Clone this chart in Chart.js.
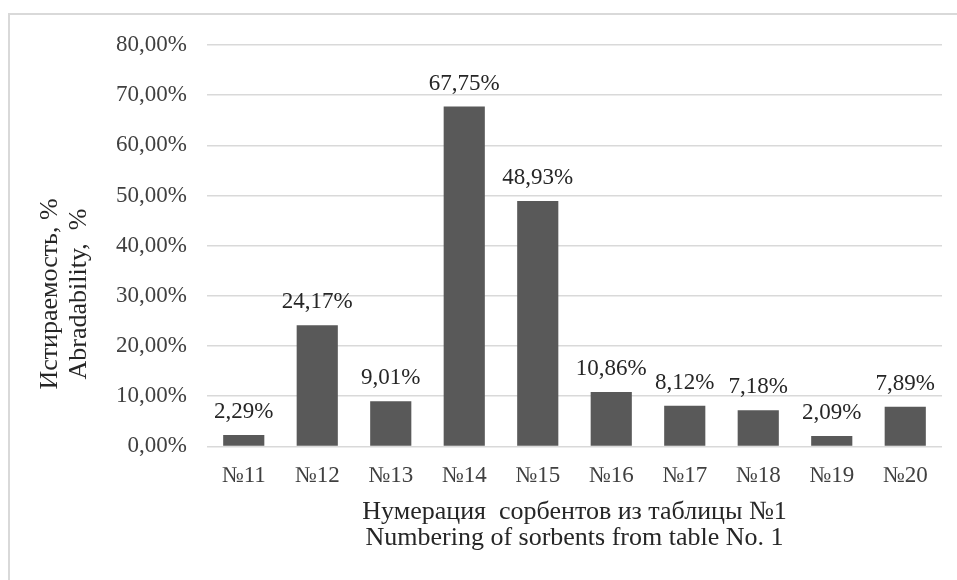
<!DOCTYPE html>
<html>
<head>
<meta charset="utf-8">
<script src="https://cdn.jsdelivr.net/npm/chart.js@4.4.0/dist/chart.umd.min.js"></script>
<style>
  html, body { margin: 0; padding: 0; background: #fff; }
  #wrap { position: relative; width: 957px; height: 580px; overflow: hidden; }
  #frame { position: absolute; left: 8px; top: 13px; width: 1000px; height: 700px;
           border: 2px solid #d9d9d9; box-sizing: border-box; }
  canvas { position: absolute; left: 0; top: 0; }
</style>
</head>
<body>
<div id="wrap">
  <div id="frame"></div>
  <canvas id="c" width="957" height="580"></canvas>
</div>
<script>
  // данные с рисунка
  const sorbenty = ["№11", "№12", "№13", "№14", "№15", "№16", "№17", "№18", "№19", "№20"];
  const istiraemost = [2.29, 24.17, 9.01, 67.75, 48.93, 10.86, 8.12, 7.18, 2.09, 7.89];
  const osY = [0, 10, 20, 30, 40, 50, 60, 70, 80];
  const nazvanieY = ["Истираемость, %", "Abradability,  %"];
  const nazvanieX = ["Нумерация  сорбентов из таблицы №1", "Numbering of sorbents from table No. 1"];

  const shrift = "'Liberation Serif', 'Times New Roman', serif";

  function proc(v) {
    return v.toFixed(2).replace(".", ",") + "%";
  }

  // подписи значений над столбцами
  const podpisi = {
    id: "podpisi",
    afterDatasetsDraw(chart) {
      const ctx = chart.ctx;
      const meta = chart.getDatasetMeta(0);
      ctx.save();
      ctx.font = "23px " + shrift;
      ctx.fillStyle = "#262626";
      ctx.textAlign = "center";
      ctx.textBaseline = "middle";
      meta.data.forEach((bar, i) => {
        ctx.fillText(proc(istiraemost[i]), bar.x, bar.y - 23);
      });
      ctx.restore();
    },
  };

  // заголовки осей (Y сдвинут ниже центра, как в оригинале)
  const zagolovki = {
    id: "zagolovki",
    afterDraw(chart) {
      const ctx = chart.ctx;
      const ca = chart.chartArea;
      ctx.save();
      ctx.font = "26px " + shrift;
      ctx.fillStyle = "#262626";
      ctx.textAlign = "center";
      ctx.textBaseline = "middle";
      const cx = (ca.left + ca.right) / 2;
      ctx.fillText(nazvanieX[0], cx, ca.bottom + 66);
      ctx.fillText(nazvanieX[1], cx, ca.bottom + 92);
      ctx.translate(0, 294);
      ctx.rotate(-Math.PI / 2);
      ctx.fillText(nazvanieY[0], 0, 50);
      ctx.fillText(nazvanieY[1], 0, 79);
      ctx.restore();
    },
  };

  new Chart(document.getElementById("c").getContext("2d"), {
    type: "bar",
    data: {
      labels: sorbenty,
      datasets: [
        {
          data: istiraemost,
          backgroundColor: "#595959",
          categoryPercentage: 1,
          barPercentage: 0.56,
        },
      ],
    },
    options: {
      responsive: false,
      animation: false,
      layout: { padding: { left: 0, right: 15, top: 45, bottom: 82 } },
      plugins: { legend: { display: false }, tooltip: { enabled: false } },
      scales: {
        x: {
          grid: { display: false },
          border: { display: false },
          ticks: { color: "#404040", font: { family: shrift, size: 23 }, padding: 8 },
        },
        y: {
          min: 0,
          max: 80,
          afterBuildTicks(axis) {
            axis.ticks = osY.map((v) => ({ value: v }));
          },
          afterFit(axis) {
            axis.width = 207;
          },
          grid: { color: "#d9d9d9", lineWidth: 1.5, drawTicks: false },
          border: { display: false },
          ticks: {
            color: "#404040",
            font: { family: shrift, size: 23 },
            padding: 20,
            callback: (v) => proc(v),
          },
        },
      },
    },
    plugins: [podpisi, zagolovki],
  });
</script>
</body>
</html>
